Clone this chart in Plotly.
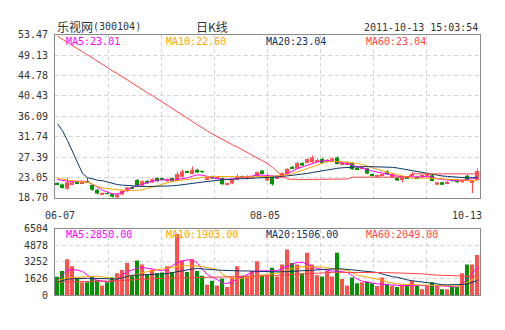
import plotly.graph_objects as go

# ---------------- data ----------------
stock_name = "乐视网"
stock_code = "(300104)"
chart_title = "日K线"
timestamp = "2011-10-13 15:03:54"

x_labels = ["06-07", "08-05", "10-13"]
x_label_idx = [0, 42, 84]

price_ticks = [18.70, 23.05, 27.39, 31.74, 36.09, 40.43, 44.78, 49.13, 53.47]
price_tick_labels = ["18.70", "23.05", "27.39", "31.74", "36.09", "40.43", "44.78", "49.13", "53.47"]
vol_ticks = [0, 1626, 3252, 4878, 6504]
vol_tick_labels = ["0", "1626", "3252", "4878", "6504"]

ma_price_labels = ["MA5:23.01", "MA10:22.60", "MA20:23.04", "MA60:23.04"]
ma_vol_labels = ["MA5:2850.00", "MA10:1903.00", "MA20:1506.00", "MA60:2049.00"]

opens = [21.85, 21.55, 20.60, 21.60, 22.00, 21.80, 22.20, 21.40, 20.40, 19.55,
         19.70, 19.50, 18.75, 19.40, 20.10, 20.95, 22.50, 21.30, 22.30, 21.95,
         22.90, 22.70, 22.20, 22.90, 22.30, 23.20, 24.30, 23.80, 24.70, 24.40,
         22.70, 23.30, 22.80, 22.90, 21.70, 21.75, 22.60, 23.20, 22.70, 23.00,
         23.35, 24.50, 22.40, 23.10, 22.90, 23.00, 23.70, 25.20, 24.90, 26.10,
         26.10, 26.30, 26.50, 27.00, 26.50, 26.60, 27.30, 25.90, 25.90, 26.10,
         24.90, 25.00, 25.00, 23.70, 23.35, 23.40, 24.30, 23.10, 22.90, 22.50,
         23.10, 23.60, 23.10, 23.30, 23.40, 23.50, 21.50, 22.00, 21.90, 22.50,
         22.50, 22.10, 23.40, 21.90, 22.50]
highs = [22.00, 21.70, 23.10, 22.20, 22.30, 22.20, 22.90, 21.60, 20.60, 19.80,
         19.90, 19.60, 19.60, 20.40, 21.00, 21.10, 22.70, 22.40, 22.50, 22.80,
         23.00, 22.90, 22.80, 23.00, 24.30, 24.70, 24.50, 25.40, 24.90, 24.50,
         23.40, 23.40, 23.20, 23.00, 21.90, 22.70, 23.80, 23.40, 23.50, 23.30,
         24.30, 24.60, 24.00, 23.30, 23.30, 24.10, 25.00, 25.50, 26.40, 26.30,
         27.10, 27.70, 27.10, 27.20, 26.90, 27.30, 27.50, 26.30, 26.50, 26.30,
         25.20, 25.30, 25.10, 23.90, 23.60, 23.80, 24.60, 24.00, 23.10, 23.30,
         23.30, 24.20, 23.40, 23.60, 24.00, 23.70, 22.10, 22.10, 22.30, 22.70,
         22.70, 22.40, 23.60, 22.40, 25.00]
lows = [21.40, 20.70, 20.40, 21.40, 21.70, 21.70, 21.90, 20.20, 19.40, 19.45,
        19.40, 18.75, 18.70, 19.30, 20.00, 20.60, 21.20, 21.20, 21.70, 21.90,
        22.10, 22.40, 22.10, 22.10, 22.20, 23.10, 24.00, 23.70, 24.00, 24.00,
        22.60, 22.70, 22.70, 21.50, 21.60, 21.60, 22.50, 22.90, 22.60, 22.80,
        23.20, 23.70, 22.30, 21.30, 22.80, 22.90, 23.60, 24.90, 24.80, 25.50,
        26.00, 26.20, 26.40, 26.00, 26.40, 26.50, 25.80, 25.80, 25.80, 24.70,
        24.60, 24.90, 23.80, 23.30, 23.20, 23.30, 23.60, 23.00, 22.30, 22.00,
        22.80, 23.50, 22.70, 22.90, 23.30, 22.20, 21.40, 21.40, 21.70, 22.10,
        21.90, 21.90, 22.20, 19.70, 22.40]
closes = [21.50, 20.80, 22.00, 22.00, 21.85, 22.00, 22.10, 20.40, 19.60, 19.65,
          19.55, 18.90, 19.40, 20.25, 20.90, 20.80, 21.30, 22.20, 21.80, 22.65,
          22.20, 22.60, 22.70, 22.20, 23.80, 24.30, 24.20, 24.70, 24.10, 24.25,
          23.10, 22.80, 23.00, 21.60, 21.80, 22.60, 23.30, 23.00, 23.30, 23.10,
          24.20, 23.80, 23.00, 21.60, 23.10, 24.00, 24.90, 25.00, 26.10, 25.60,
          27.00, 27.30, 26.60, 26.10, 26.80, 27.10, 25.90, 26.10, 26.30, 24.80,
          24.80, 25.10, 23.90, 23.40, 23.45, 23.60, 23.70, 23.80, 22.40, 23.10,
          22.95, 23.70, 22.90, 23.40, 23.90, 22.30, 22.00, 21.50, 22.00, 22.30,
          22.00, 22.30, 22.30, 22.30, 24.40]

volumes = [1791, 2357, 3518, 2828, 1634, 1257, 1257, 1791, 1477, 943,
           1257, 1728, 2137, 2451, 3142, 1885, 3393, 2985, 2042, 2514,
           2137, 2200, 2828, 2262, 5966, 3393, 2262, 3518, 2357, 1885,
           1005, 1414, 943, 1634, 786, 1728, 2828, 1885, 1885, 2357,
           3299, 1948, 1948, 2671, 1822, 2985, 4462, 3142, 2985, 2137,
           4148, 2985, 1948, 1822, 2357, 1822, 4148, 1571, 943, 1728,
           1162, 1257, 1320, 1162, 880, 1728, 1100, 880, 786, 1005,
           1005, 1414, 880, 565, 943, 1257, 880, 565, 565, 786,
           786, 2137, 2985, 2985, 3927]

ma5 = [22.60, 22.35, 22.25, 22.20, 22.25, 22.25, 22.10, 21.60, 21.00, 20.30,
       19.90, 19.55, 19.50, 19.90, 20.40, 20.95, 21.30, 21.60, 21.90, 22.25,
       22.45, 22.60, 22.60, 22.45, 22.60, 22.80, 22.95, 23.30, 23.60, 23.50,
       23.20, 22.95, 22.75, 22.65, 22.60, 22.70, 22.95, 23.05, 23.15, 23.35,
       23.60, 23.55, 23.45, 23.35, 23.30, 23.50, 23.90, 24.40, 24.95, 25.30,
       25.70, 26.00, 26.35, 26.55, 26.65, 26.50, 26.40, 26.20, 25.95, 25.60,
       25.35, 25.00, 24.70, 24.40, 24.15, 23.90, 23.65, 23.45, 23.30, 23.20,
       23.15, 23.10, 23.05, 23.15, 23.30, 23.00, 22.75, 22.60, 22.45, 22.40,
       22.35, 22.45, 22.60, 22.75, 22.95]
ma10 = [22.90, 22.60, 22.45, 22.35, 22.25, 22.15, 22.05, 21.60, 21.10, 20.80,
        20.65, 20.50, 20.40, 20.30, 20.25, 20.20, 20.30, 20.40, 20.70, 21.05,
        21.40, 21.60, 21.85, 22.20, 22.35, 22.50, 22.65, 22.80, 22.95, 23.10,
        23.20, 23.30, 23.25, 23.20, 23.15, 23.15, 23.15, 23.15, 23.15, 23.15,
        23.15, 23.15, 23.20, 23.30, 23.40, 23.55, 23.70, 23.85, 24.20, 24.60,
        25.00, 25.40, 25.75, 26.10, 26.40, 26.50, 26.45, 26.40, 26.30, 26.20,
        26.00, 25.80, 25.45, 25.10, 24.75, 24.40, 24.10, 23.90, 23.60, 23.35,
        23.10, 22.85, 22.90, 22.95, 22.90, 22.85, 22.80, 22.70, 22.65, 22.60,
        22.50, 22.40, 22.35, 22.30, 22.30]
ma20 = [34.50, 33.00, 30.90, 28.50, 26.20, 23.90, 23.00, 22.65, 22.45, 22.35,
        22.10, 21.70, 21.50, 21.40, 21.30, 21.25, 21.20, 21.10, 21.10, 21.10,
        21.10, 21.15, 21.20, 21.25, 21.35, 21.45, 21.60, 21.75, 21.90, 22.05,
        22.20, 22.35, 22.45, 22.55, 22.60, 22.65, 22.75, 22.75, 22.75, 22.75,
        22.80, 22.85, 22.95, 23.05, 23.15, 23.25, 23.35, 23.45, 23.60, 23.75,
        23.90, 24.10, 24.30, 24.45, 24.60, 24.80, 25.00, 25.10, 25.20, 25.25,
        25.30, 25.35, 25.35, 25.35, 25.35, 25.35, 25.35, 25.20, 25.05, 24.85,
        24.70, 24.50, 24.35, 24.20, 24.00, 23.75, 23.50, 23.35, 23.25, 23.15,
        23.05, 22.95, 22.95, 23.00, 23.10]
ma60 = [53.20, 52.50, 51.90, 51.20, 50.50, 49.90, 49.20, 48.50, 47.80, 47.20,
        46.50, 45.80, 45.20, 44.50, 43.80, 43.10, 42.50, 41.80, 41.10, 40.50,
        39.80, 39.10, 38.40, 37.70, 37.00, 36.30, 35.60, 35.00, 34.30, 33.60,
        32.90, 32.30, 31.70, 31.20, 30.60, 30.00, 29.50, 28.90, 28.30, 27.80,
        27.20, 26.60, 26.00, 25.20, 24.20, 23.30, 22.70, 22.60, 22.60, 22.60,
        22.60, 22.60, 22.60, 22.70, 22.70, 22.70, 22.70, 22.70, 22.70, 23.10,
        23.10, 23.10, 23.10, 23.10, 23.10, 23.10, 23.10, 23.10, 23.10, 23.10,
        23.10, 23.80, 23.80, 23.80, 23.80, 23.80, 23.80, 23.80, 23.80, 23.80,
        23.80, 23.80, 23.80, 23.80, 23.80]

vma5 = [1400, 2000, 2400, 2500, 2450, 2300, 1950, 1600, 1450, 1350,
        1300, 1350, 1550, 2000, 2300, 2450, 2650, 2700, 2650, 2550,
        2450, 2400, 2500, 2900, 3200, 3350, 3450, 3450, 3100, 2500,
        2000, 1750, 1500, 1150, 1150, 1300, 1600, 1800, 2000, 2250,
        2350, 2350, 2350, 2350, 2400, 2600, 2850, 3050, 3200, 3200,
        3000, 2750, 2600, 2500, 2400, 2350, 2350, 2300, 2200, 1900,
        1550, 1350, 1250, 1150, 1100, 1050, 1000, 950, 950, 950,
        950, 950, 950, 950, 950, 950, 950, 900, 850, 800,
        800, 1150, 1600, 2150, 2750]
vma10 = [1450, 1600, 1680, 1720, 1760, 1800, 1830, 1870, 1850, 1780,
         1700, 1650, 1630, 1700, 1800, 1890, 2050, 2200, 2300, 2400,
         2480, 2520, 2600, 2700, 2800, 2880, 2880, 2860, 2840, 2800,
         2700, 2600, 2500, 2050, 1750, 1650, 1580, 1650, 1730, 1850,
         1950, 2000, 2050, 2100, 2140, 2300, 2450, 2600, 2750, 2780,
         2780, 2770, 2770, 2750, 2650, 2580, 2580, 2500, 2400, 2150,
         1950, 1850, 1750, 1650, 1580, 1450, 1280, 1180, 1100, 1060,
         1030, 1010, 1000, 980, 960, 950, 940, 920, 900, 890,
         880, 1000, 1250, 1500, 1800]
vma20 = [1280, 1450, 1550, 1600, 1630, 1640, 1640, 1640, 1640, 1620,
         1580, 1570, 1570, 1700, 1850, 1940, 1960, 1980, 2000, 2020,
         2040, 2060, 2100, 2200, 2300, 2400, 2480, 2550, 2600, 2580,
         2530, 2490, 2450, 2420, 2390, 2370, 2360, 2360, 2360, 2360,
         2360, 2330, 2300, 2280, 2260, 2280, 2300, 2330, 2360, 2400,
         2440, 2480, 2520, 2560, 2580, 2580, 2580, 2560, 2520, 2480,
         2430, 2380, 2320, 2260, 2210, 2050, 1900, 1800, 1740, 1600,
         1480, 1400, 1330, 1250, 1180, 1110, 1060, 1020, 1005, 1005,
         1005, 1040, 1100, 1250, 1420]
vma60 = [1260, 1270, 1270, 1280, 1280, 1290, 1290, 1300, 1300, 1310,
         1320, 1350, 1390, 1430, 1470, 1510, 1540, 1560, 1580, 1600,
         1620, 1630, 1640, 1660, 1680, 1700, 1710, 1720, 1725, 1730,
         1730, 1730, 1730, 1730, 1740, 1760, 1770, 1780, 1800, 1810,
         1820, 1850, 1880, 1910, 1940, 1970, 2010, 2040, 2070, 2100,
         2130, 2160, 2190, 2210, 2220, 2220, 2220, 2210, 2210, 2200,
         2200, 2200, 2200, 2200, 2200, 2200, 2200, 2190, 2180, 2160,
         2150, 2140, 2130, 2080, 2020, 1960, 1950, 1930, 1910, 1900,
         1890, 1870, 1850, 1830, 1820]

# ---------------- styling ----------------
W, H = 505, 330
PLOT_L, PLOT_R = 55, 480
PRICE_T, PRICE_B = 30, 199
VOL_T, VOL_B = 231, 300
RED = "#ff4f4f"
GREEN = "#009400"
C_MA5 = "#ff00ff"
C_MA10 = "#ffa500"
C_MA20 = "#0a3566"
C_MA60 = "#ff4646"
MA_COLORS = [C_MA5, C_MA10, C_MA20, C_MA60]
GRID = "#d4d4d4"
BORDER = "#8a8a8a"
TXT = "#333333"
MONO = "DejaVu Sans Mono"
CJK = "Noto Sans CJK SC"

n = len(opens)
idx = list(range(n))
colors = [RED if c >= o else GREEN for o, c in zip(opens, closes)]
min_body = 0.2
body_base, body_h = [], []
for o, c in zip(opens, closes):
    lo, hi = min(o, c), max(o, c)
    if hi - lo < min_body:
        mid = (hi + lo) / 2
        lo, hi = mid - min_body / 2, mid + min_body / 2
    body_base.append(lo)
    body_h.append(hi - lo)

fig = go.Figure()

# wicks
fig.add_trace(go.Bar(x=idx, base=lows, y=[h - l for h, l in zip(highs, lows)],
                     width=0.2, offset=-0.1, marker=dict(color=colors, line=dict(width=0)),
                     xaxis="x", yaxis="y", hoverinfo="skip", showlegend=False))
# bodies
fig.add_trace(go.Bar(x=idx, base=body_base, y=body_h,
                     width=0.8, offset=-0.5, marker=dict(color=colors, line=dict(width=0)),
                     xaxis="x", yaxis="y", hoverinfo="skip", showlegend=False))
for series, col in zip([ma5, ma10, ma20, ma60], MA_COLORS):
    fig.add_trace(go.Scatter(x=idx, y=series, mode="lines", line=dict(color=col, width=1),
                             xaxis="x", yaxis="y", hoverinfo="skip", showlegend=False))

# volume
fig.add_trace(go.Bar(x=idx, y=volumes, width=0.8, offset=-0.5,
                     marker=dict(color=colors, line=dict(width=0)),
                     xaxis="x2", yaxis="y2", hoverinfo="skip", showlegend=False))
for series, col in zip([vma5, vma10, vma20, vma60], MA_COLORS):
    fig.add_trace(go.Scatter(x=idx, y=series, mode="lines", line=dict(color=col, width=1),
                             xaxis="x2", yaxis="y2", hoverinfo="skip", showlegend=False))

xdom = [PLOT_L / W, PLOT_R / W]
xrange = [-0.5, n - 0.5]
vgrid = [xrange[0] + (xrange[1] - xrange[0]) * k / 8 for k in range(1, 8)]
axis_common = dict(showline=True, mirror=True, linecolor=BORDER, linewidth=1,
                   showgrid=True, gridcolor=GRID, griddash="4px,3px", gridwidth=1,
                   zeroline=False, fixedrange=True)

fig.update_layout(
    width=W, height=H, margin=dict(l=0, r=0, t=0, b=0),
    paper_bgcolor="white", plot_bgcolor="white",
    barmode="overlay", showlegend=False,
    xaxis=dict(domain=xdom, range=xrange, anchor="y", tickvals=vgrid,
               showticklabels=False, ticks="", **axis_common),
    yaxis=dict(domain=[1 - PRICE_B / H, 1 - PRICE_T / H], range=[price_ticks[0], price_ticks[-1]],
               anchor="x", tickvals=price_ticks, ticktext=price_tick_labels, ticks="",
               ticklabelstandoff=4, tickfont=dict(family=MONO, size=10, color=TXT), **axis_common),
    xaxis2=dict(domain=xdom, range=xrange, anchor="y2", tickvals=vgrid,
                showticklabels=False, ticks="", **axis_common),
    yaxis2=dict(domain=[1 - VOL_B / H, 1 - VOL_T / H], range=[vol_ticks[0], vol_ticks[-1]],
                anchor="x2", tickvals=vol_ticks, ticktext=vol_tick_labels, ticks="",
                ticklabelstandoff=4, tickfont=dict(family=MONO, size=10, color=TXT), **axis_common),
)

ann = []
def px_ann(text, x, y, xanchor="left", family=MONO, size=10, color=TXT):
    ann.append(dict(text=text, xref="paper", yref="paper", x=x / W, y=1 - y / H,
                    xanchor=xanchor, yanchor="middle", showarrow=False,
                    font=dict(family=family, size=size, color=color)))

px_ann(stock_name, 55, 21, family=CJK, size=12)
px_ann(stock_code, 91, 21)
px_ann(chart_title, 212, 21, xanchor="center", family=CJK, size=12)
px_ann(timestamp, 480, 22, xanchor="right")

for k, (t, col) in enumerate(zip(ma_price_labels, MA_COLORS)):
    px_ann(t, 64 + 100 * k, 37, color=col)
for k, (t, col) in enumerate(zip(ma_vol_labels, MA_COLORS)):
    px_ann(t, 64 + 100 * k, 237, color=col)

shifts = [2, -3, 4]
anchors = ["center", "center", "right"]
for lab, i, sh, an in zip(x_labels, x_label_idx, shifts, anchors):
    xv = i + 0.5 if an == "right" else i
    ann.append(dict(text=lab, xref="x", yref="paper", x=xv, y=1 - 217 / H,
                    xanchor=an, yanchor="middle", xshift=sh, showarrow=False,
                    font=dict(family=MONO, size=10, color=TXT)))

fig.update_layout(annotations=ann)
fig.write_html("out.html")
